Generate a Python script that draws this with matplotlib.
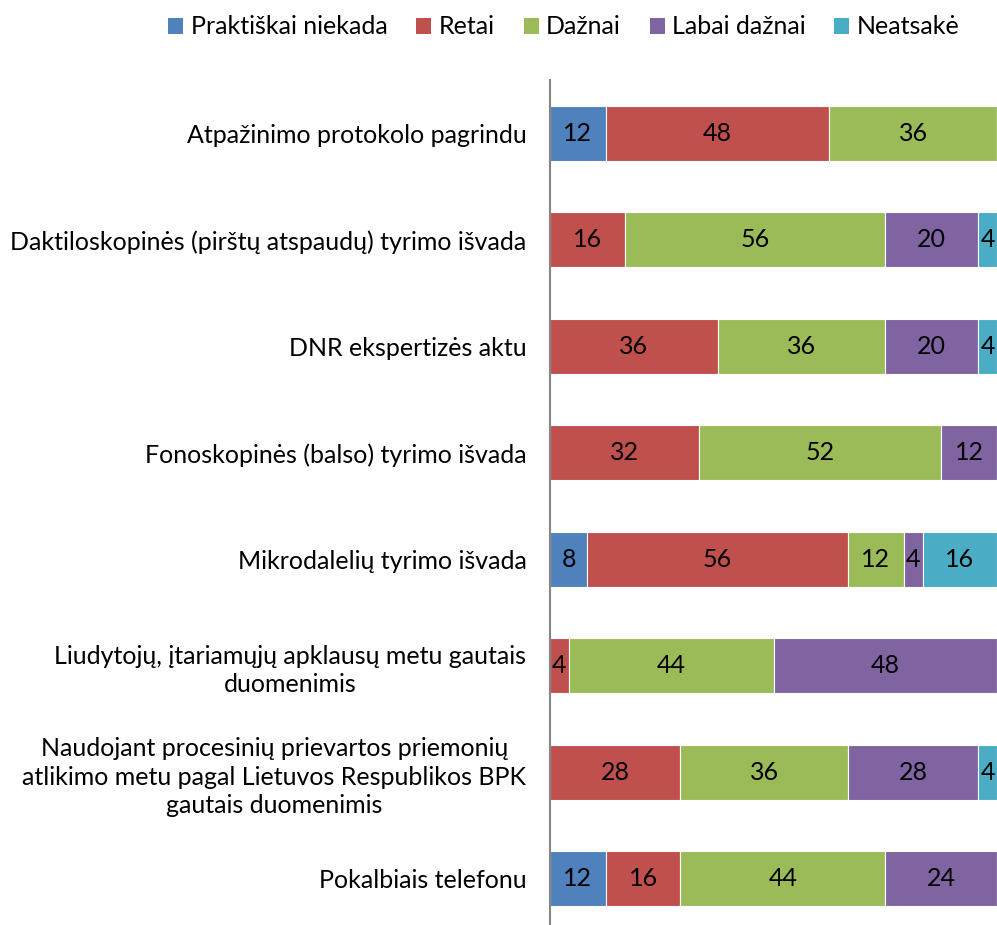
import matplotlib
matplotlib.use("Agg")
import matplotlib.pyplot as plt
from matplotlib.patches import Patch
import numpy as np

plt.rcParams['font.family'] = ['Lato', 'DejaVu Sans']

categories = [
    "Atpažinimo protokolo pagrindu",
    "Daktiloskopinės (pirštų atspaudų) tyrimo išvada",
    "DNR ekspertizės aktu",
    "Fonoskopinės (balso) tyrimo išvada",
    "Mikrodalelių tyrimo išvada",
    "Liudytojų, įtariamųjų apklausų metu gautais\nduomenimis",
    "Naudojant procesinių prievartos priemonių\natlikimo metu pagal Lietuvos Respublikos BPK\ngautais duomenimis",
    "Pokalbiais telefonu",
]
series_names = ["Praktiškai niekada", "Retai", "Dažnai", "Labai dažnai", "Neatsakė"]
praktiskai = [12, 0, 0, 0, 8, 0, 0, 12]
retai = [48, 16, 36, 32, 56, 4, 28, 16]
daznai = [36, 56, 36, 52, 12, 44, 36, 44]
labai = [0, 20, 20, 12, 4, 48, 28, 24]
neatsake = [0, 4, 4, 0, 16, 0, 4, 0]
colors = ["#4F81BD", "#C0504D", "#9BBB59", "#8064A2", "#4BACC6"]

FS = 18

fig = plt.figure(figsize=(9.97, 9.25), dpi=100)
ax = fig.add_axes([550/997, -7/925, 447/997, 852/925])

y = np.arange(len(categories))
left = np.zeros(len(categories))
for name, vals, col in zip(series_names, [praktiskai, retai, daznai, labai, neatsake], colors):
    vals = np.array(vals, dtype=float)
    ax.barh(y, vals, left=left, height=0.52, color=col, edgecolor="white", linewidth=0.8)
    for yi, (l, v) in enumerate(zip(left, vals)):
        if v > 0:
            ax.text(l + v/2, yi, f"{int(v)}", ha="center", va="center", fontsize=FS, color="black")
    left += vals

ax.set_xlim(0, 96)
ax.set_ylim(len(categories) - 0.5, -0.5)
ax.set_yticks(y)
ax.set_yticklabels(categories, fontsize=FS, ha="right", multialignment="center", linespacing=1.3)
ax.tick_params(axis="y", length=0, pad=17)
ax.set_xticks([])
for s in ["top", "right", "bottom"]:
    ax.spines[s].set_visible(False)
ax.spines["left"].set_color("#868686")
ax.spines["left"].set_linewidth(1.5)

handles = [Patch(facecolor=c, edgecolor="none") for c in colors]
fig.legend(handles, series_names, loc="center", bbox_to_anchor=(564/997, 1 - 27/925),
           ncol=5, frameon=False, fontsize=FS, handlelength=0.6, handleheight=0.6,
           handletextpad=0.3, columnspacing=1.15)

fig.savefig("out.png", dpi=100)
